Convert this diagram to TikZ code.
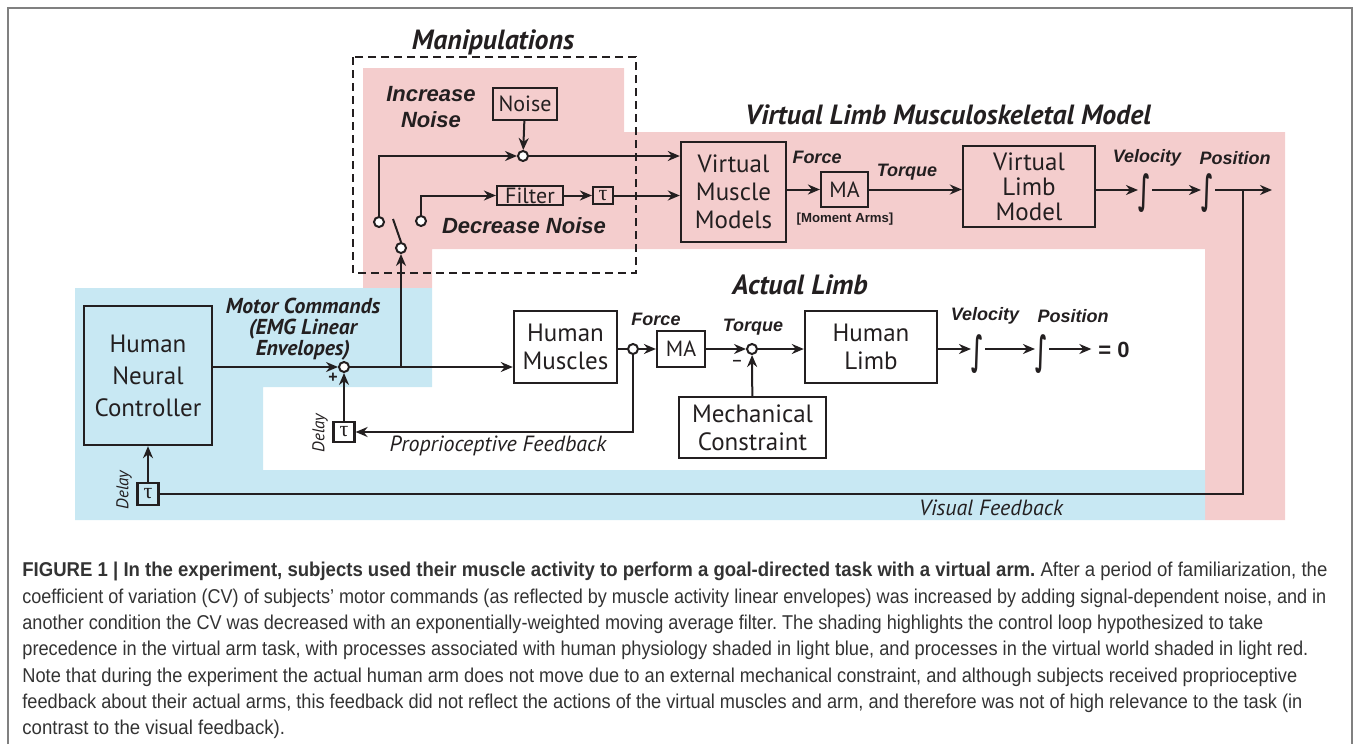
\documentclass[tikz,border=0pt]{standalone}
\usepackage{graphicx}
\usepackage{fontspec}
\setmainfont{Liberation Sans}
\newfontfamily\ptsans{PT Sans}
\newfontfamily\grkfont{Liberation Serif}
\newfontfamily\symfont{DejaVu Sans}
\newfontfamily\capfont[FakeStretch=0.93]{Liberation Sans}
\usetikzlibrary{arrows.meta, positioning, calc}

\definecolor{ink}{RGB}{35,31,32}
\definecolor{virtred}{RGB}{244,205,205}
\definecolor{humblue}{RGB}{200,232,243}

\newcommand{\integ}{\scalebox{0.9}[1.8]{\symfont\bfseries ∫}}
\newcommand{\capfit}[2]{\resizebox{#1}{\height}{#2}}

\begin{document}
\frenchspacing
\begin{tikzpicture}[
    x=0.5pt, y=-0.5pt,
    block/.style={draw=ink, line width=1.2pt, align=center, inner sep=1pt, text=ink, font=\ptsans\fontsize{12.5}{14}\selectfont},
    smallbox/.style={draw=ink, line width=1.1pt, inner sep=0pt, text=ink, font=\ptsans\fontsize{11}{12}\selectfont},
    taubox/.style={draw=ink, line width=1.1pt, inner sep=0pt, text=ink, font=\grkfont\fontsize{11}{11}\selectfont},
    junc/.style={circle, draw=ink, line width=1pt, fill=white, inner sep=0pt, minimum size=5pt},
    sig/.style={draw=ink, line width=1pt},
    arr/.style={sig, -{Stealth[length=6pt, width=5pt]}},
    title/.style={text=ink, font=\ptsans\bfseries\itshape\fontsize{13.9}{15}\selectfont},
    tag/.style={text=ink, font=\bfseries\itshape\fontsize{9}{10}\selectfont},
    bigtag/.style={text=ink, align=center, font=\bfseries\itshape\fontsize{11}{13}\selectfont},
    note/.style={text=ink, font=\ptsans\itshape\fontsize{11}{12}\selectfont},
    delay/.style={text=ink, rotate=90, font=\ptsans\itshape\fontsize{8.5}{9}\selectfont},
    intg/.style={text=ink, inner sep=0.3pt, font=\fontsize{11}{11}\selectfont},
    capline/.style={anchor=west, inner sep=0pt, text=black!80, font=\capfont\fontsize{10}{13}\selectfont}
]
\useasboundingbox (0,0) rectangle (1354,744);

% Frame
\draw[gray, line width=1pt] (8,744) -- (8,8) -- (1352,8) -- (1352,744);

% Shading
\fill[virtred] (363,68) -- (624,68) -- (624,132) -- (1285,132) -- (1285,520) -- (1205,520)
    -- (1205,249) -- (432,249) -- (432,288) -- (363,288) -- cycle;
\fill[humblue] (75,288) -- (432,288) -- (432,387) -- (263,387) -- (263,470) -- (1205,470)
    -- (1205,520) -- (75,520) -- cycle;
\draw[ink, line width=0.8pt, dash pattern=on 4pt off 2.5pt] (353,57) rectangle (636,273);

% Titles
\node[title] (manip) at (493,42) {Manipulations};
\node[title] (vtitle) at (948,115) {Virtual Limb Musculoskeletal Model};
\node[title] (atitle) at (800,285) {Actual Limb};

% Manipulations
\node[bigtag] (incr) at (431,107) {Increase\\Noise};
\node[bigtag] (decr) at (524,226) {Decrease Noise};
\node[smallbox, minimum width=32pt, minimum height=16pt] (noise) at (525,104) {Noise};
\node[junc] (sumnoise) at (523,156) {};
\node[smallbox, minimum width=33pt, minimum height=9.5pt] (filter) at (530,195.5) {Filter};
\node[taubox, minimum width=10pt, minimum height=8.5pt] (tau1) at (603,195.5) {τ};
\node[junc] (swA) at (379,222) {};
\node[junc] (swB) at (421,221) {};
\node[junc] (sw) at (401,248) {};
\coordinate (swlever) at (393,219);

% Virtual limb
\node[block, minimum width=52.5pt, minimum height=50pt] (vmm) at (733.5,192) {Virtual\\Muscle\\Models};
\node[smallbox, minimum width=23.5pt, minimum height=17.5pt] (vma) at (844.5,189.5) {MA};
\node[block, minimum width=66pt, minimum height=40.5pt, font=\ptsans\fontsize{12.5}{12.5}\selectfont] (vlimb) at (1029,186.5) {Virtual\\Limb\\Model};
\node[tag] (vforce) at (817,157) {Force};
\node[tag] (vtorque) at (907,172) {Torque};
\node[text=ink, font=\bfseries\fontsize{6.6}{7}\selectfont] (marms) at (845,219) {[Moment Arms]};
\node[intg] (vint1) at (1145,193) {\integ};
\node[intg] (vint2) at (1208,193) {\integ};
\node[tag] (vvel) at (1147,158) {Velocity};
\node[tag] (vpos) at (1235,158) {Position};
\coordinate (vout) at (1272,190);
\coordinate (vtap) at (1243,190);

% Human side
\node[block, minimum width=64pt, minimum height=69.5pt, font=\ptsans\fontsize{12.5}{16}\selectfont] (hnc) at (148,375.5) {Human\\Neural\\Controller};
\node[text=ink, align=center, font=\ptsans\bfseries\itshape\fontsize{10.8}{10.4}\selectfont] (motor) at (303,329) {Motor Commands\\(EMG Linear\\Envelopes)};
\node[junc] (msum) at (344,367) {};
\node[text=ink, inner sep=0pt, font=\bfseries\fontsize{8}{8}\selectfont] (plus) at (333,378) {+};
\coordinate (mtap) at (401,367);
\node[block, minimum width=51.5pt, minimum height=36pt] (hmus) at (565.5,347) {Human\\Muscles};
\node[junc] (fsplit) at (633,349) {};
\node[smallbox, minimum width=24pt, minimum height=18pt] (hma) at (681,349) {MA};
\node[junc] (tsum) at (752,349) {};
\node[text=ink, inner sep=0pt, font=\bfseries\fontsize{8}{8}\selectfont] (minus) at (737,363) {--};
\node[block, minimum width=66pt, minimum height=36pt] (hlimb) at (871,347) {Human\\Limb};
\node[block, minimum width=73.5pt, minimum height=30.5pt] (mech) at (752.5,427.5) {Mechanical\\Constraint};
\node[tag] (hforce) at (656,319) {Force};
\node[tag] (htorque) at (753,327) {Torque};
\node[intg] (hint1) at (978,354) {\integ};
\node[intg] (hint2) at (1042,354) {\integ};
\node[tag] (hvel) at (985,316) {Velocity};
\node[tag] (hpos) at (1073,316) {Position};
\node[text=ink, font=\bfseries\fontsize{11}{12}\selectfont] (zero) at (1114,350) {= 0};

% Feedback
\node[taubox, minimum width=10.5pt, minimum height=10pt] (tau2) at (344,432) {τ};
\node[delay] (pdelay) at (320,433) {Delay};
\node[note] (ptext) at (498,446) {Proprioceptive Feedback};
\node[taubox, minimum width=10.5pt, minimum height=11pt] (tau3) at (148,494) {τ};
\node[delay] (vdelay) at (124,490) {Delay};
\node[note] (vtext) at (991,508) {Visual Feedback};

% Connectors: manipulations
\draw[arr] (noise) -- (sumnoise);
\draw[arr] (swA) |- (sumnoise);
\draw[arr] (sumnoise) -- (sumnoise -| vmm.west);
\draw[arr] (swB) |- (filter);
\draw[arr] (filter) -- (tau1);
\draw[arr] (tau1) -- (tau1 -| vmm.west);
\draw[sig] (sw.north) -- (swlever);

% Connectors: virtual limb
\draw[arr] (vmm.east |- vma) -- (vma);
\draw[arr] (vma) -- (vma -| vlimb.west);
\draw[arr] (vlimb.east |- vout) -- (vout -| vint1.west);
\draw[arr] (vout -| vint1.east) -- (vout -| vint2.west);
\draw[arr] (vout -| vint2.east) -- (vout);

% Connectors: motor commands and actual limb
\draw[arr] (hnc.east |- msum) -- (msum);
\draw[arr] (msum) -- (msum -| hmus.west);
\draw[arr] (mtap) -- (sw);
\draw[sig] (hmus.east |- fsplit) -- (fsplit);
\draw[arr] (fsplit) -- (hma);
\draw[arr] (hma) -- (tsum);
\draw[arr] (tsum) -- (tsum -| hlimb.west);
\draw[arr] (mech) -- (tsum);
\draw[arr] (hlimb.east |- fsplit) -- (fsplit -| hint1.west);
\draw[arr] (fsplit -| hint1.east) -- (fsplit -| hint2.west);
\draw[arr] (fsplit -| hint2.east) -- (fsplit -| zero.west);

% Connectors: feedback
\draw[arr] (fsplit) |- (tau2);
\draw[arr] (tau2) -- (msum);
\draw[sig] (vtap) |- (tau3);
\draw[arr] (tau3) -- (tau3 |- hnc.south);

% Caption (each line fitted to the printed line length)
\node[capline] (cap1) at (22,571) {\capfit{652.5pt}{\textbf{FIGURE 1 | In the experiment, subjects used their muscle activity to perform a goal-directed task with a virtual arm.} After a period of familiarization, the}};
\node[capline] (cap2) at (22,598) {\capfit{652pt}{coefficient of variation (CV) of subjects’ motor commands (as reflected by muscle activity linear envelopes) was increased by adding signal-dependent noise, and in}};
\node[capline] (cap3) at (22,624) {\capfit{620.5pt}{another condition the CV was decreased with an exponentially-weighted moving average filter. The shading highlights the control loop hypothesized to take}};
\node[capline] (cap4) at (22,650) {\capfit{643pt}{precedence in the virtual arm task, with processes associated with human physiology shaded in light blue, and processes in the virtual world shaded in light red.}};
\node[capline] (cap5) at (22,677) {\capfit{637.5pt}{Note that during the experiment the actual human arm does not move due to an external mechanical constraint, and although subjects received proprioceptive}};
\node[capline] (cap6) at (22,703) {\capfit{640pt}{feedback about their actual arms, this feedback did not reflect the actions of the virtual muscles and arm, and therefore was not of high relevance to the task (in}};
\node[capline] (cap7) at (22,729) {contrast to the visual feedback).};

\end{tikzpicture}
\end{document}
